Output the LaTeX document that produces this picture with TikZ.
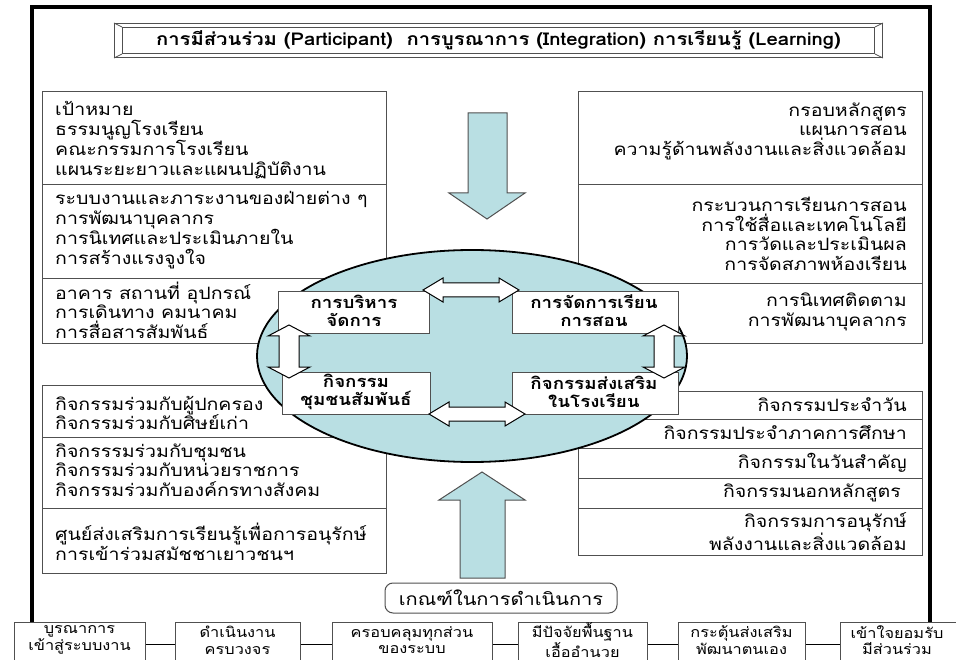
\documentclass[tikz,border=0pt]{standalone}
\usepackage{fontspec}
\setmainfont[Script=Thai, FakeStretch=1.15]{Loma}
\usetikzlibrary{shapes.geometric}
\definecolor{cyanfill}{HTML}{B9DFE3}
\definecolor{boxline}{HTML}{505050}
\tikzset{
  frameline/.style={line width=3.5pt, black, line join=miter},
  panel/.style={draw=boxline, line width=1pt, fill=white, rectangle, inner sep=0pt, anchor=north west, minimum width=344},
  ltext/.style={anchor=west, align=left, inner sep=0pt, font=\fontsize{17}{19.5}\selectfont},
  rtext/.style={anchor=east, align=right, inner sep=0pt, font=\fontsize{17}{19.5}\selectfont},
  core/.style={draw=boxline, line width=1pt, fill=white, rectangle, inner sep=0pt, anchor=north west},
  coretext/.style={align=center, inner sep=0pt, font=\bfseries\fontsize{16.3}{18}\selectfont},
  bigarrow/.style={draw=boxline, line width=1pt, fill=cyanfill, line join=miter},
  dblarrow/.style={draw=black, line width=1pt, fill=white, line join=miter},
  base/.style={draw=boxline, line width=1pt, fill=white, rectangle, inner sep=0pt, anchor=north west, minimum height=44},
  basetext/.style={align=center, inner sep=0pt, font=\fontsize{14.2}{16.5}\selectfont},
  link/.style={draw=black, line width=1.2pt},
}
\newcommand{\myharrow}[3]{\draw[dblarrow] (#1,#3) -- ({#1+20},{#3-12}) -- ({#1+20},{#3-7}) -- ({#2-20},{#3-7}) -- ({#2-20},{#3-12}) -- (#2,#3) -- ({#2-20},{#3+12}) -- ({#2-20},{#3+7}) -- ({#1+20},{#3+7}) -- ({#1+20},{#3+12}) -- cycle;}
\newcommand{\myvarrow}[3]{\draw[dblarrow] (#1,#2) -- ({#1+21},{#2+11}) -- ({#1+10},{#2+11}) -- ({#1+10},{#3-11}) -- ({#1+21},{#3-11}) -- (#1,#3) -- ({#1-21},{#3-11}) -- ({#1-10},{#3-11}) -- ({#1-10},{#2+11}) -- ({#1-21},{#2+11}) -- cycle;}
\begin{document}
\begin{tikzpicture}[x=1pt,y=-1pt]
\useasboundingbox (0,0) rectangle (956,660);
\fill[white] (0,0) rectangle (956,660);

% outer frame
\coordinate (fA) at (32,622); \coordinate (fB) at (32,7);
\coordinate (fC) at (930,7);  \coordinate (fD) at (930,622);
\draw[frameline] (fA) -- (fB) -- (fC) -- (fD);

% title
\node[draw=boxline, line width=1pt, fill=white, minimum width=768, minimum height=34, anchor=north west, inner sep=0pt] (title) at (114,23) {};
\node[draw=boxline, line width=1pt, minimum width=752, minimum height=26, inner sep=0pt, font=\bfseries\fontsize{17.6}{20}\selectfont] (titlein) at (title.center) {การมีส่วนร่วม (Participant)\ \ การบูรณาการ (Integration) การเรียนรู้ (Learning)};
\draw[boxline, line width=0.8pt] (title.north west) -- (titlein.north west) (title.north east) -- (titlein.north east) (title.south west) -- (titlein.south west) (title.south east) -- (titlein.south east);

% left panels
\node[panel, minimum height=93] (L1) at (42,91) {};
\node[panel, minimum height=94] (L2) at (42,184) {};
\node[panel, minimum height=65] (L3) at (42,278) {};
\node[panel, minimum height=52] (L4) at (42,385) {};
\node[panel, minimum height=71] (L5) at (42,437) {};
\node[panel, minimum height=65] (L6) at (42,508) {};
\node[ltext] (L1t) at (55,140) {เป้าหมาย\\ธรรมนูญโรงเรียน\\คณะกรรมการโรงเรียน\\แผนระยะยาวและแผนปฏิบัติงาน};
\node[ltext] (L2t) at (55,230) {ระบบงานและภาระงานของฝ่ายต่าง ๆ\\การพัฒนาบุคลากร\\การนิเทศและประเมินภายใน\\การสร้างแรงจูงใจ};
\node[ltext] (L3t) at (55,310) {อาคาร สถานที่ อุปกรณ์\\การเดินทาง คมนาคม\\การสื่อสารสัมพันธ์};
\node[ltext] (L4t) at (55,413) {กิจกรรมร่วมกับผู้ปกครอง\\กิจกรรมร่วมกับศิษย์เก่า};
\node[ltext] (L5t) at (55,470) {กิจกรรรมร่วมกับชุมชน\\กิจกรรมร่วมกับหน่วยราชการ\\กิจกรรมร่วมกับองค์กรทางสังคม};
\node[ltext] (L6t) at (55,542) {ศูนย์ส่งเสริมการเรียนรู้เพื่อการอนุรักษ์\\การเข้าร่วมสมัชชาเยาวชนฯ};

% right panels
\node[panel, minimum height=93] (R1) at (578,91) {};
\node[panel, minimum height=99] (R2) at (578,184) {};
\node[panel, minimum height=60] (R3) at (578,283) {};
\node[panel, minimum height=28] (R4) at (578,391) {};
\node[panel, minimum height=29] (R5) at (578,419) {};
\node[panel, minimum height=30] (R6) at (578,448) {};
\node[panel, minimum height=30] (R7) at (578,478) {};
\node[panel, minimum height=47] (R8) at (578,508) {};
\node[rtext] (R1t) at (907,131) {กรอบหลักสูตร\\แผนการสอน\\ความรู้ด้านพลังงานและสิ่งแวดล้อม};
\node[rtext] (R2t) at (907,234) {กระบวนการเรียนการสอน\\การใช้สื่อและเทคโนโลยี\\การวัดและประเมินผล\\การจัดสภาพห้องเรียน};
\node[rtext] (R3t) at (907,312) {การนิเทศติดตาม\\การพัฒนาบุคลากร};
\node[rtext] (R4t) at (907,405) {กิจกรรมประจำวัน};
\node[rtext] (R5t) at (907,433) {กิจกรรมประจำภาคการศึกษา};
\node[rtext] (R6t) at (907,463) {กิจกรรมในวันสำคัญ};
\node[rtext] (R7t) at (901,493) {กิจกรรมนอกหลักสูตร};
\node[rtext] (R8t) at (907,532) {กิจกรรมการอนุรักษ์\\พลังงานและสิ่งแวดล้อม};

% big arrows
\draw[bigarrow] (468,113) -- (507,113) -- (507,193) -- (525,193) -- (487,219) -- (449,193) -- (468,193) -- cycle;
\draw[bigarrow] (460,578) -- (505,578) -- (505,500) -- (525,500) -- (482,472) -- (439,500) -- (460,500) -- cycle;

% hub
\node[ellipse, draw=black, line width=1.8pt, fill=cyanfill, minimum width=430, minimum height=212, inner sep=0pt] (hub) at (472,356) {};
\node[core, minimum width=151, minimum height=42] (C1) at (278,291) {};
\node[core, minimum width=166, minimum height=42] (C2) at (512,291) {};
\node[core, minimum width=148, minimum height=42] (C3) at (282,372) {};
\node[core, minimum width=166, minimum height=42] (C4) at (512,372) {};
\node[coretext] (C1t) at (354,311) {การบริหาร\\จัดการ};
\node[coretext] (C2t) at (594,311) {การจัดการเรียน\\การสอน};
\node[coretext] (C3t) at (356,392) {กิจกรรม\\ชุมชนสัมพันธ์};
\node[coretext] (C4t) at (594,392) {กิจกรรมส่งเสริม\\ในโรงเรียน};
\myharrow{423}{519}{290}
\myharrow{429}{525}{414}
\myvarrow{289}{325}{378}
\myvarrow{664}{325}{378}

% criteria
\node[draw=boxline, line width=1pt, rounded corners=8pt, fill=white, minimum width=232, minimum height=30, inner sep=0pt, font=\fontsize{17.4}{20}\selectfont] (crit) at (501,598) {เกณฑ์ในการดำเนินการ};

% bottom row
\node[base, minimum width=131] (B1) at (14,622) {};
\node[base, minimum width=125] (B2) at (175,622) {};
\node[base, minimum width=160] (B3) at (332,622) {};
\node[base, minimum width=129] (B4) at (518,622) {};
\node[base, minimum width=127] (B5) at (678,622) {};
\node[base, minimum width=130] (B6) at (840,622) {};
\draw[link] (B1) -- (B2);
\draw[link] (B2) -- (B3);
\draw[link] (B3) -- (B4);
\draw[link] (B4) -- (B5);
\draw[link] (B5) -- (B6);
\node[basetext] (B1t) at (79.5,640) {บูรณาการ\\เข้าสู่ระบบงาน};
\node[basetext] (B2t) at (237.5,640) {ดำเนินงาน\\ครบวงจร};
\node[basetext] (B3t) at (412,640) {ครอบคลุมทุกส่วน\\ของระบบ};
\node[basetext] (B4t) at (582.5,640) {มีปัจจัยพื้นฐาน\\เอื้ออำนวย};
\node[basetext] (B5t) at (741.5,640) {กระตุ้นส่งเสริม\\พัฒนาตนเอง};
\node[basetext] (B6t) at (897,640) {เข้าใจยอมรับ\\มีส่วนร่วม};
\end{tikzpicture}
\end{document}
